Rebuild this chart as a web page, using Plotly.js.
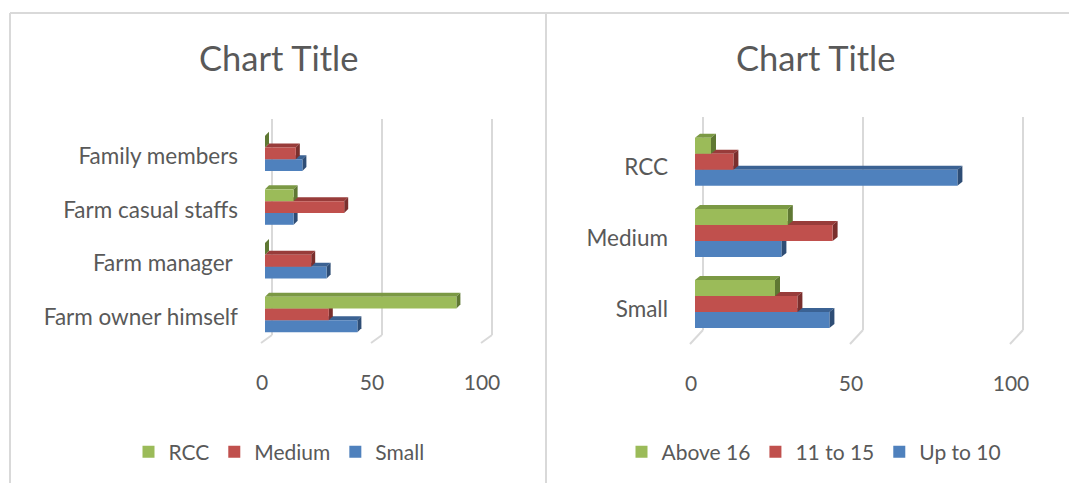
<!DOCTYPE html>
<html>
<head>
<meta charset="utf-8">
<script src="https://cdn.plot.ly/plotly-3.0.1.min.js"></script>
<style>
  html, body { margin: 0; padding: 0; background: #ffffff; }
  #chart { width: 1069px; height: 483px; }
</style>
</head>
<body>
<div id="chart"></div>
<script>
// ---- data: who handles the work, by farm size ----
const leftCategories = ["Farm owner himself", "Farm manager ", "Farm casual staffs", "Family members"];
const leftSmall  = [42, 28, 13, 17];
const leftMedium = [29, 21, 36, 14];
const leftRCC    = [87, 0, 13, 0];
const leftSeriesNames = ["Small", "Medium", "RCC"];

// ---- data: farm type by herd size ----
const rightCategories = ["Small", "Medium", "RCC"];
const upTo10      = [42, 27, 82];
const elevenTo15  = [32, 43, 12];
const above16     = [25, 29, 5];
const rightSeriesNames = ["Up to 10", "11 to 15", "Above 16"];

const xTicks = [0, 50, 100];
const chartTitle = "Chart Title";

// ---- page geometry (pixels) ----
const W = 1069, H = 483;
const px = v => v / W;
const py = v => 1 - v / H;

const FONT = "Lato, 'Open Sans', sans-serif";
const TEXT = "#595959";
const GRID = "#d9d9d9";

// front, top and side face colours per series (blue, red, green)
const faces = [
  { front: "#4F81BD", top: "#3B6293", side: "#2E4D75" },
  { front: "#C0504D", top: "#983C3A", side: "#7A2F2D" },
  { front: "#9BBB59", top: "#7B9944", side: "#5F7833" }
];

// panel definitions
const panels = [
  {
    cats: leftCategories, series: [leftSmall, leftMedium, leftRCC], names: leftSeriesNames,
    xa: "x", ya: "y", legend: "legend",
    x0px: 265, x100px: 485, yBot: 344, yTop: 119, yMax: 3.69,
    barW: 0.22, lift: 0.05, dxPx: 4, dyPx: 4,
    floorFront: -4, back: 7, floorY: 343, backY: 335, gridTop: 119,
    tickShift: -3, titleX: 278, legendX: 279
  },
  {
    cats: rightCategories, series: [upTo10, elevenTo15, above16], names: rightSeriesNames,
    xa: "x2", ya: "y2", legend: "legend2",
    x0px: 695, x100px: 1015, yBot: 344.5, yTop: 117, yMax: 2.7,
    barW: 0.225, lift: 0.07, dxPx: 5, dyPx: 4,
    floorFront: -5, back: 8, floorY: 344, backY: 330, gridTop: 117,
    tickShift: -4, titleX: 815, legendX: 814
  }
];

const traces = [];
const shapes = [];
const annotations = [];
const layout = {
  width: W, height: H,
  margin: { l: 0, r: 0, t: 0, b: 0 },
  paper_bgcolor: "#ffffff", plot_bgcolor: "rgba(0,0,0,0)",
  barmode: "overlay",
  font: { family: FONT, color: TEXT, size: 21 },
  hovermode: false
};

// chart frames: top rule, left edge and the divider between the two charts
shapes.push({ type: "line", xref: "paper", yref: "paper", x0: px(10), x1: 1.01, y0: py(13), y1: py(13), line: { color: GRID, width: 2 }, layer: "below" });
shapes.push({ type: "line", xref: "paper", yref: "paper", x0: px(10), x1: px(10), y0: py(13), y1: -0.02, line: { color: GRID, width: 2 }, layer: "below" });
shapes.push({ type: "line", xref: "paper", yref: "paper", x0: px(546), x1: px(546), y0: py(13), y1: -0.02, line: { color: GRID, width: 2 }, layer: "below" });

panels.forEach((p, pi) => {
  const suffix = pi === 0 ? "" : "2";
  const pxPerUnit = (p.x100px - p.x0px) / 100;
  const pxPerCat = (p.yBot - p.yTop) / (p.yMax + 0.5);
  const dx = p.dxPx / pxPerUnit;
  const dy = p.dyPx / pxPerCat;
  const positions = p.cats.map((_, i) => i);
  // value on the x axis -> pixel column on the page
  const valueToPx = v => p.x0px + v * pxPerUnit;

  layout["xaxis" + suffix] = {
    domain: [px(p.x0px), px(p.x100px)],
    range: [0, 100],
    anchor: p.ya,
    tickvals: xTicks,
    ticktext: xTicks.map(String),
    ticks: "",
    ticklabelstandoff: 24,
    ticklabelshift: p.tickShift,
    showgrid: false, zeroline: false, showline: false,
    tickfont: { family: FONT, size: 21, color: TEXT },
    fixedrange: true
  };
  layout["yaxis" + suffix] = {
    domain: [py(p.yBot), py(p.yTop)],
    range: [-0.5, p.yMax],
    anchor: p.xa,
    tickvals: positions,
    ticktext: p.cats,
    ticks: "",
    ticklabelstandoff: 26,
    showgrid: false, zeroline: false, showline: false,
    tickfont: { family: FONT, size: 22.5, color: TEXT },
    fixedrange: true
  };

  // receding gridlines: a short floor stub, then the vertical line on the back wall
  xTicks.forEach(t => {
    const c = valueToPx(t);
    shapes.push({
      type: "line", xref: "paper", yref: "paper",
      x0: px(c + p.floorFront), x1: px(c + p.back), y0: py(p.floorY), y1: py(p.backY),
      line: { color: GRID, width: 2 }, layer: "below"
    });
    shapes.push({
      type: "line", xref: "paper", yref: "paper",
      x0: px(c + p.back), x1: px(c + p.back), y0: py(p.backY), y1: py(p.gridTop),
      line: { color: GRID, width: 2 }, layer: "below"
    });
  });

  // bars: front faces as traces, top and side faces drawn just behind them
  p.series.forEach((vals, k) => {
    const offset = -1.5 * p.barW + k * p.barW + p.lift;
    traces.push({
      type: "bar", orientation: "h",
      x: vals, y: positions,
      width: p.barW, offset: offset,
      name: p.names[k],
      xaxis: p.xa, yaxis: p.ya,
      legend: p.legend,
      marker: { color: faces[k].front, line: { width: 0 } },
      hoverinfo: "skip"
    });
    vals.forEach((v, i) => {
      const y0 = i + offset, y1 = y0 + p.barW;
      shapes.push({
        type: "path", xref: p.xa, yref: p.ya, layer: "between",
        path: `M0,${y1} L${v},${y1} L${v + dx},${y1 + dy} L${dx},${y1 + dy} Z`,
        fillcolor: faces[k].top, line: { width: 0 }
      });
      shapes.push({
        type: "path", xref: p.xa, yref: p.ya, layer: "between",
        path: `M${v},${y0} L${v},${y1} L${v + dx},${y1 + dy} L${v + dx},${y0 + dy} Z`,
        fillcolor: faces[k].side, line: { width: 0 }
      });
    });
  });

  annotations.push({
    text: chartTitle, xref: "paper", yref: "paper",
    x: px(p.titleX), y: py(57), xanchor: "center", yanchor: "middle",
    showarrow: false, font: { family: FONT, size: 34.5, color: TEXT }
  });

  layout[p.legend] = {
    orientation: "h", traceorder: "reversed",
    x: px(p.legendX), xanchor: "center",
    y: py(452), yanchor: "middle",
    font: { family: FONT, size: 21, color: TEXT },
    bgcolor: "rgba(0,0,0,0)", itemclick: false, itemdoubleclick: false
  };
});

layout.shapes = shapes;
layout.annotations = annotations;

Plotly.newPlot("chart", traces, layout, { displayModeBar: false, staticPlot: true });
</script>
</body>
</html>
